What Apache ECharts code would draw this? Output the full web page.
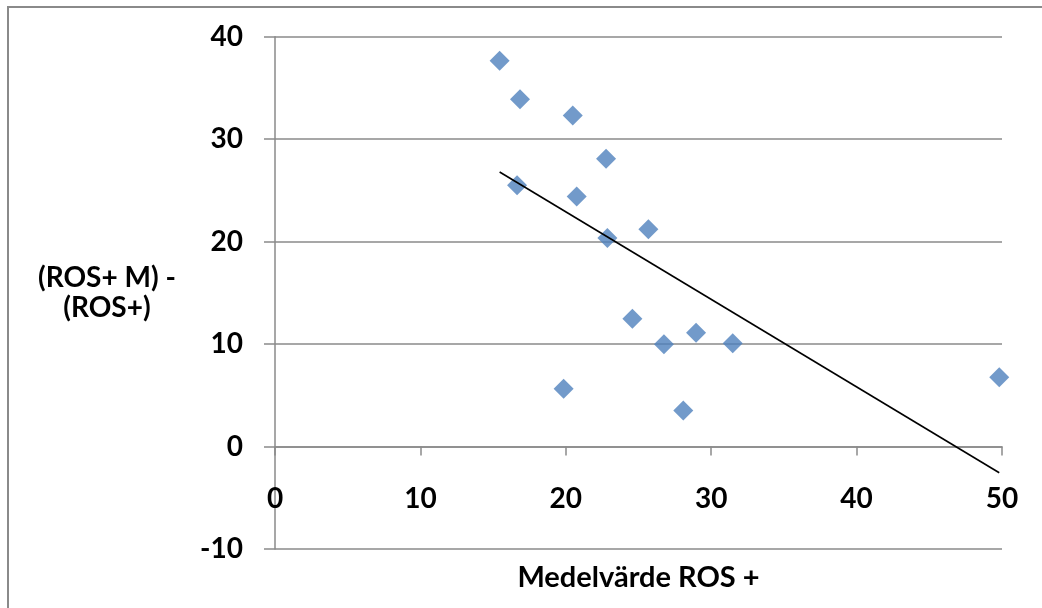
<!DOCTYPE html>
<html>
<head>
<meta charset="utf-8">
<script src="https://cdn.jsdelivr.net/npm/echarts@6/dist/echarts.min.js"></script>
<style>
  html, body { margin: 0; padding: 0; background: #ffffff; overflow: hidden; }
  #frame { position: absolute; left: 7px; top: 6px; width: 1100px; height: 700px;
           border-left: 2px solid #8a8a8a; border-top: 2px solid #8a8a8a; box-sizing: border-box; }
  #chart { position: absolute; left: 0; top: 0; width: 1042px; height: 608px; }
</style>
</head>
<body>
<div id="frame"></div>
<div id="chart"></div>
<script>
// ---- Data ----
const xValues = [15.45, 16.85, 20.48, 22.77, 16.65, 20.75, 25.68, 22.86, 24.58, 28.96, 26.75, 31.48, 19.85, 28.08, 49.81];
const yValues = [37.66, 33.90, 32.30, 28.10, 25.50, 24.40, 21.20, 20.35, 12.46, 11.10, 9.99, 10.09, 5.63, 3.51, 6.77];
const xTicks = [0, 10, 20, 30, 40, 50];
const yTicks = [-10, 0, 10, 20, 30, 40];
const xTitle = 'Medelvärde ROS +';
const yTitle = '(ROS+ M) -\n(ROS+)';

// ---- Linear trend line (least squares) from the data ----
const n = xValues.length;
const mx = xValues.reduce((a, b) => a + b, 0) / n;
const my = yValues.reduce((a, b) => a + b, 0) / n;
let sxy = 0, sxx = 0;
for (let i = 0; i < n; i++) {
  sxy += (xValues[i] - mx) * (yValues[i] - my);
  sxx += (xValues[i] - mx) * (xValues[i] - mx);
}
const slope = sxy / sxx;
const intercept = my - slope * mx;
const xMin = Math.min(...xValues), xMax = Math.max(...xValues);
const trend = [[xMin, intercept + slope * xMin], [xMax, intercept + slope * xMax]];

const points = xValues.map((x, i) => [x, yValues[i]]);

const FONT = 'Lato';
const gray = '#8a8a8a';

const chart = echarts.init(document.getElementById('chart'), null, { renderer: 'canvas' });
chart.setOption({
  animation: false,
  backgroundColor: 'transparent',
  grid: { left: 275, right: 40, top: 36.7, bottom: 59, containLabel: false, outerBoundsMode: 'none' },
  xAxis: {
    type: 'value',
    min: xTicks[0], max: xTicks[xTicks.length - 1], interval: xTicks[1] - xTicks[0],
    name: xTitle,
    nameLocation: 'middle',
    nameGap: 29,
    nameTextStyle: { fontFamily: FONT, fontWeight: 'bold', fontSize: 29, color: '#000', verticalAlign: 'middle' },
    axisLine: { show: true, onZero: true, lineStyle: { color: gray, width: 1.5 } },
    axisTick: { show: true, length: 9, lineStyle: { color: gray, width: 1.5 } },
    axisLabel: { fontFamily: FONT, fontWeight: 'bold', fontSize: 28, color: '#000', margin: -64, showMinLabel: true, showMaxLabel: true },
    splitLine: { show: false }
  },
  yAxis: {
    type: 'value',
    min: yTicks[0], max: yTicks[yTicks.length - 1], interval: yTicks[1] - yTicks[0],
    name: yTitle,
    nameLocation: 'middle',
    nameGap: 168,
    nameRotate: 0,
    nameTextStyle: { fontFamily: FONT, fontWeight: 'bold', fontSize: 28, color: '#000', align: 'center', verticalAlign: 'middle', lineHeight: 30 },
    axisLine: { show: true, onZero: false, lineStyle: { color: gray, width: 1.5 } },
    axisTick: { show: true, length: 11, lineStyle: { color: gray, width: 1.5 } },
    axisLabel: { fontFamily: FONT, fontWeight: 'bold', fontSize: 28, color: '#000', margin: 32 },
    splitLine: { show: true, lineStyle: { color: gray, width: 1.5 } }
  },
  series: [
    {
      type: 'scatter',
      data: points,
      symbol: 'diamond',
      symbolSize: 20,
      itemStyle: { color: '#4F81BD' },
      z: 3
    },
    {
      type: 'line',
      data: trend,
      symbol: 'none',
      lineStyle: { color: '#000000', width: 1.6 },
      z: 4
    }
  ]
});
</script>
</body>
</html>
